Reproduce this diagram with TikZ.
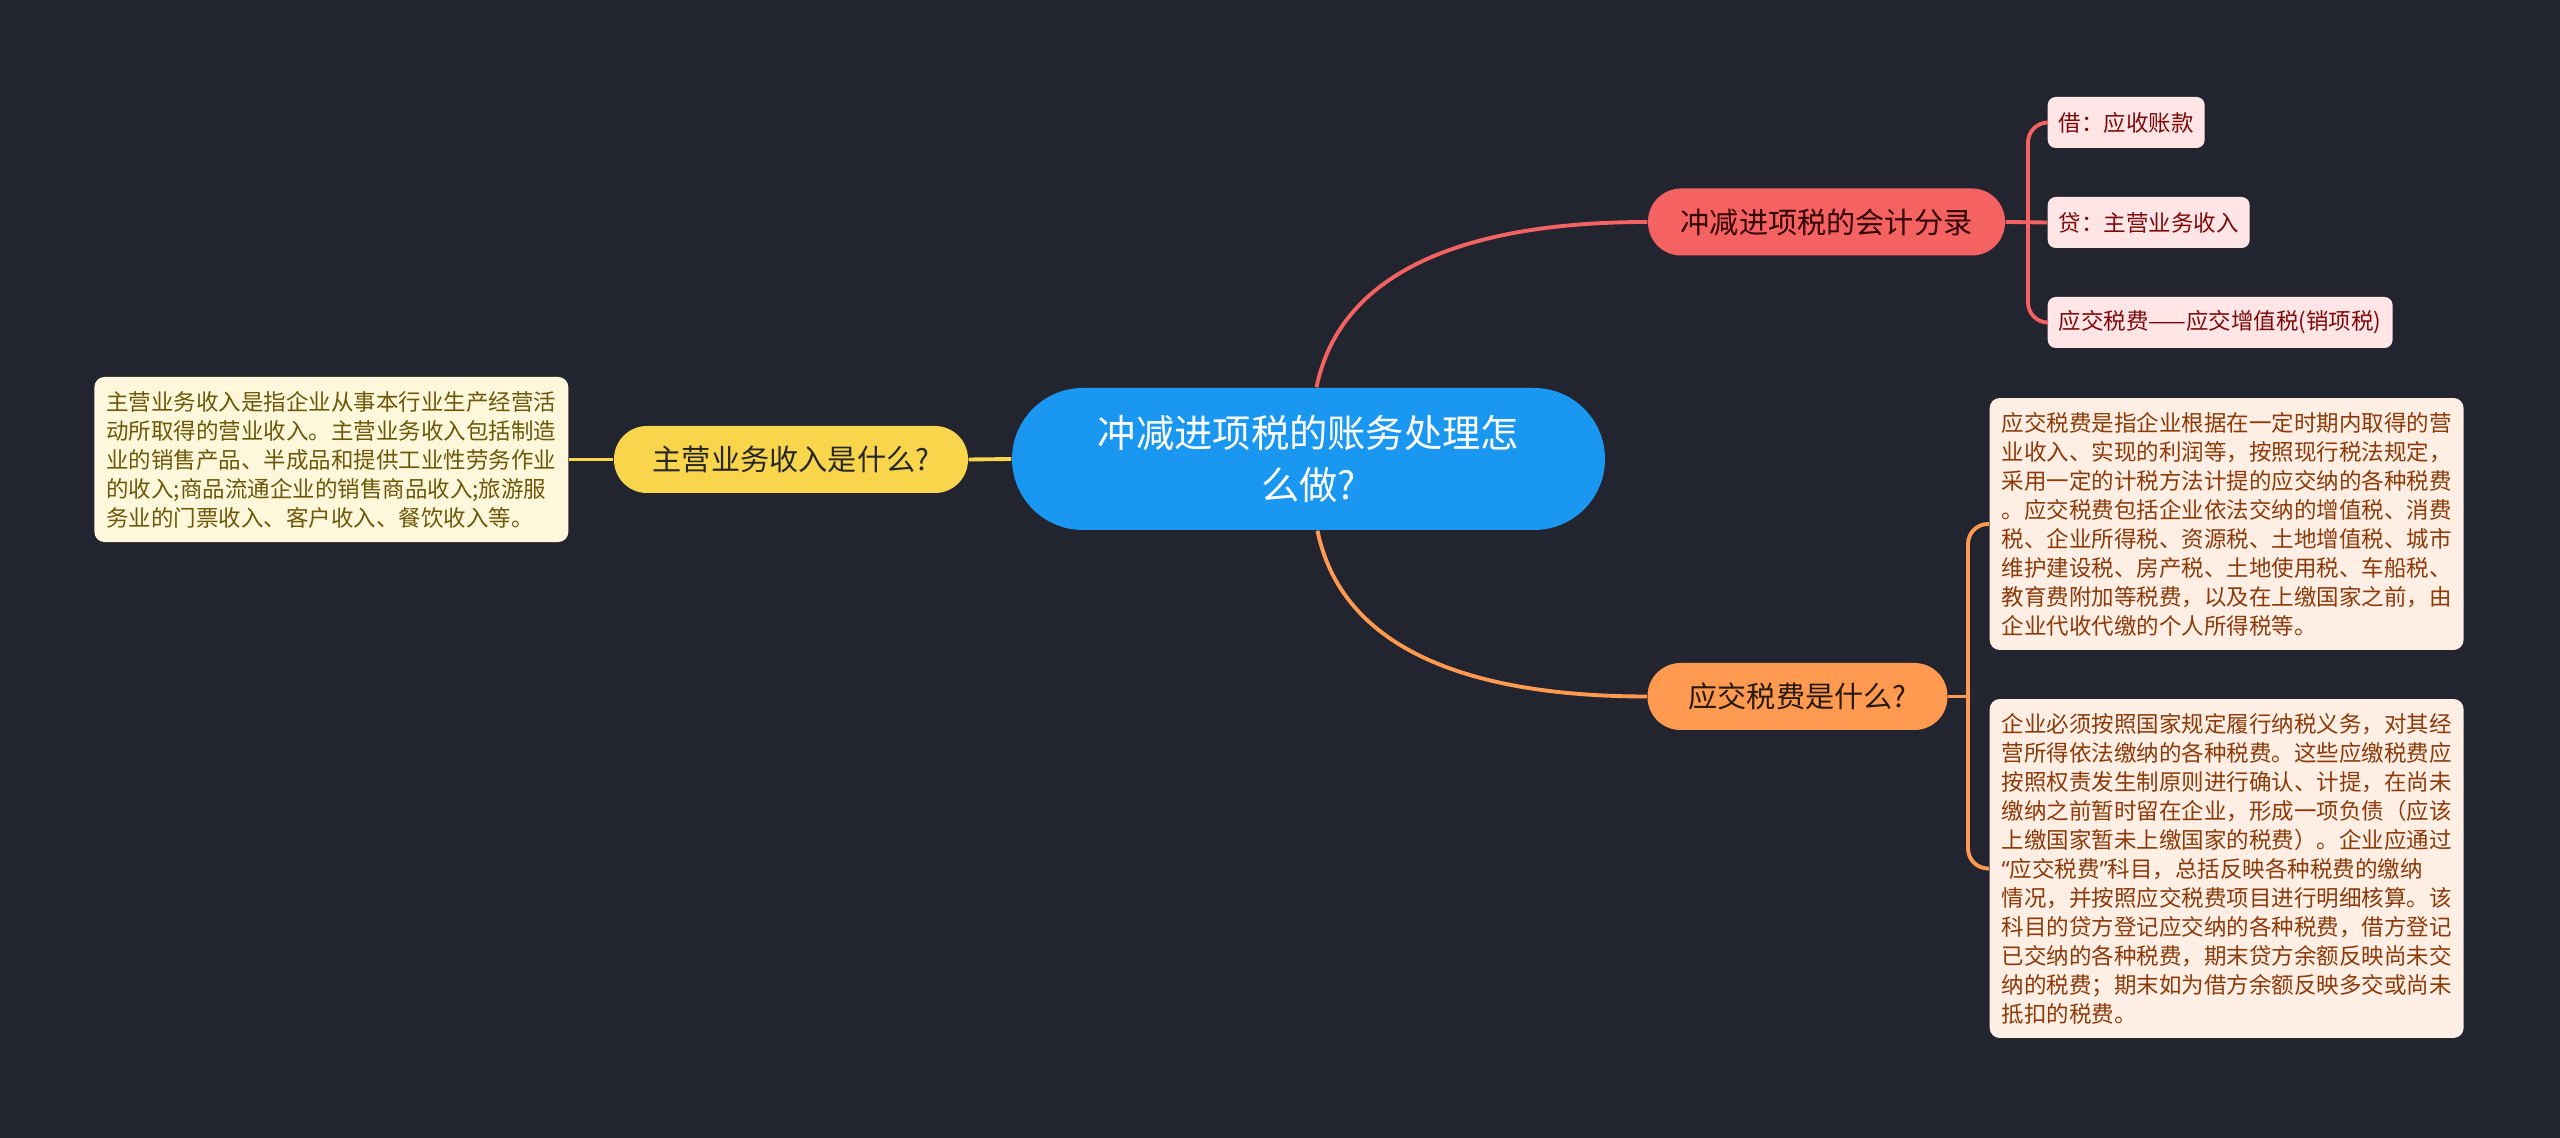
\documentclass[tikz,border=0pt]{standalone}
\usepackage{fontspec}
\setmainfont{Noto Sans CJK SC}
\newfontfamily\quotefont{Noto Sans}
\usepackage{tikz}
\usetikzlibrary{positioning,calc}
\definecolor{bgdark}{HTML}{22252F}
\definecolor{rootblue}{HTML}{1A97F0}
\definecolor{qyellow}{HTML}{F8D54A}
\definecolor{qred}{HTML}{F46262}
\definecolor{qorange}{HTML}{FF9A50}
\definecolor{leafred}{HTML}{FFE5E5}
\definecolor{leafredtext}{HTML}{7D0A0A}
\definecolor{boxorange}{HTML}{FFEEE3}
\definecolor{boxorangetext}{HTML}{8B3A0A}
\definecolor{boxyellow}{HTML}{FFF7DB}
\definecolor{boxyellowtext}{HTML}{6B5808}

\begin{document}
\begin{tikzpicture}[
    topic/.style={fill=rootblue, text=white, minimum width=5.93cm, minimum height=1.42cm, rounded corners=0.71cm, align=center, font=\fontsize{10.9pt}{14.8pt}\selectfont},
    pill/.style={minimum height=0.67cm, rounded corners=0.33cm, font=\fontsize{8.3pt}{10pt}\selectfont},
    leaf/.style={fill=leafred, text=leafredtext, minimum height=0.51cm, inner xsep=0.11cm, rounded corners=0.08cm, font=\fontsize{6.4pt}{8pt}\selectfont},
    desc/.style={align=left, inner xsep=0.12cm, inner ysep=0.14cm, rounded corners=0.1cm, font=\fontsize{6.4pt}{8.25pt}\selectfont},
    link/.style={line width=1.1pt}
]
\path[use as bounding box, fill=bgdark] (0,0) rectangle (25.6,-11.38);

% 中心主题
\node[topic] (root) at (13.085,-4.59) {冲减进项税的账务处理怎\\么做?};

% 左：主营业务收入
\node[pill, fill=qyellow, text=black!85, minimum width=3.54cm] (q1) at (7.91,-4.595) {主营业务收入是什么?};
\node[desc, fill=boxyellow, text=boxyellowtext, anchor=east] (d1) at (5.69,-4.595) {主营业务收入是指企业从事本行业生产经营活\\动所取得的营业收入。主营业务收入包括制造\\业的销售产品、半成品和提供工业性劳务作业\\的收入;商品流通企业的销售商品收入;旅游服\\务业的门票收入、客户收入、餐饮收入等。};

% 右上：会计分录
\node[pill, fill=qred, text=black!80!red, minimum width=3.57cm] (q2) at (18.265,-2.22) {冲减进项税的会计分录};
\foreach \i/\t in {1/借：应收账款, 2/贷：主营业务收入, 3/应交税费——应交增值税(销项税)} {
    \node[leaf, anchor=west] (a\i) at (20.47,-0.225-\i) {\t};
}

% 右下：应交税费
\node[pill, fill=qorange, text=black!80!brown, minimum width=3.0cm] (q3) at (17.975,-6.965) {应交税费是什么?};
\node[desc, fill=boxorange, text=boxorangetext, anchor=west] (d2) at (19.89,-5.24) {应交税费是指企业根据在一定时期内取得的营\\业收入、实现的利润等，按照现行税法规定，\\采用一定的计税方法计提的应交纳的各种税费\\。应交税费包括企业依法交纳的增值税、消费\\税、企业所得税、资源税、土地增值税、城市\\维护建设税、房产税、土地使用税、车船税、\\教育费附加等税费，以及在上缴国家之前，由\\企业代收代缴的个人所得税等。};
\node[desc, fill=boxorange, text=boxorangetext, anchor=west] (d3) at (19.89,-8.685) {企业必须按照国家规定履行纳税义务，对其经\\营所得依法缴纳的各种税费。这些应缴税费应\\按照权责发生制原则进行确认、计提，在尚未\\缴纳之前暂时留在企业，形成一项负债（应该\\上缴国家暂未上缴国家的税费）。企业应通过\\{\quotefont “}应交税费{\quotefont ”}科目，总括反映各种税费的缴纳\\情况，并按照应交税费项目进行明细核算。该\\科目的贷方登记应交纳的各种税费，借方登记\\已交纳的各种税费，期末贷方余额反映尚未交\\纳的税费；期末如为借方余额反映多交或尚未\\抵扣的税费。};

% 连线
\draw[link, qyellow] (root.west) -- (q1.east);
\draw[link, qyellow] (q1.west) -- (d1.east);
\draw[link, qred] ([xshift=0.08cm]root.north) .. controls +(0.23,1.13) and +(-1.88,0) .. (q2.west);
\draw[link, qorange] ([xshift=0.09cm]root.south) .. controls +(0.23,-1.13) and +(-1.88,0) .. (q3.west);

\draw[link, qred] (q2.east) -- (a2.west);
\draw[link, qred, rounded corners=0.2cm] (a1.west) -| ($(a3.west)+(-0.19,0)$) -- (a3.west);
\draw[link, qorange] (q3.east) -- ($(q3.east -| d2.west)+(-0.21,0)$);
\draw[link, qorange, rounded corners=0.2cm] (d2.west) -| ($(d3.west)+(-0.21,0)$) -- (d3.west);
\end{tikzpicture}
\end{document}
